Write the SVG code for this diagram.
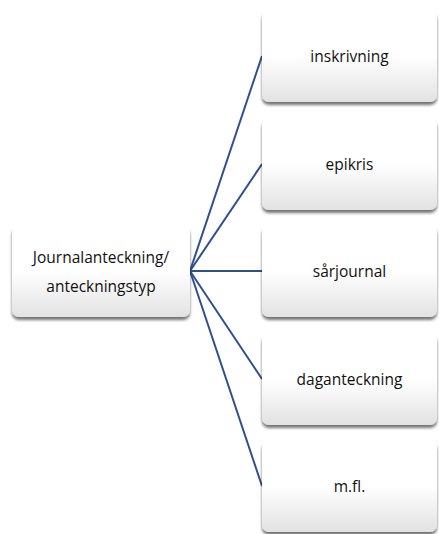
<svg xmlns="http://www.w3.org/2000/svg" width="439" height="534" viewBox="0 0 439 534">
<defs>
<linearGradient id="g" x1="0" y1="0" x2="0" y2="1">
<stop offset="0" stop-color="#ffffff"/>
<stop offset="0.5" stop-color="#ffffff"/>
<stop offset="1" stop-color="#e2e2e2"/>
</linearGradient>
<filter id="sh" x="-10%" y="-10%" width="125%" height="130%">
<feGaussianBlur in="SourceAlpha" stdDeviation="1.8"/>
<feOffset dx="0" dy="2.5" result="b"/>
<feComponentTransfer><feFuncA type="linear" slope="0.55"/></feComponentTransfer>
<feMerge><feMergeNode/><feMergeNode in="SourceGraphic"/></feMerge>
</filter>
</defs>
<style>
.box{fill:url(#g);filter:url(#sh);}
.t{font-family:"Open Sans","Liberation Sans",sans-serif;font-size:15.5px;fill:#111;text-anchor:middle;}
.c{stroke:#2f4f8f;stroke-width:2;fill:none;}
</style>
<rect width="439" height="534" fill="#fff"/>
<g id="connectors">
<line class="c" x1="190" y1="271" x2="262" y2="56"/>
<line class="c" x1="190" y1="271" x2="262" y2="164"/>
<line class="c" x1="190" y1="271" x2="262" y2="271"/>
<line class="c" x1="190" y1="271" x2="262" y2="379"/>
<line class="c" x1="190" y1="271" x2="262" y2="486"/>
</g>
<g id="root">
<rect class="box" x="12" y="225" width="178" height="92" rx="7"/>
<text class="t" x="101" y="263">Journalanteckning/</text>
<text class="t" x="101" y="292">anteckningstyp</text>
</g>
<g id="inskrivning">
<rect class="box" x="262" y="10" width="175" height="92" rx="7"/>
<text class="t" x="349.5" y="62">inskrivning</text>
</g>
<g id="epikris">
<rect class="box" x="262" y="118" width="175" height="92" rx="7"/>
<text class="t" x="349.5" y="170">epikris</text>
</g>
<g id="sarjournal">
<rect class="box" x="262" y="225" width="175" height="92" rx="7"/>
<text class="t" x="349.5" y="277">sårjournal</text>
</g>
<g id="daganteckning">
<rect class="box" x="262" y="333" width="175" height="92" rx="7"/>
<text class="t" x="349.5" y="385">daganteckning</text>
</g>
<g id="mfl">
<rect class="box" x="262" y="440" width="175" height="92" rx="7"/>
<text class="t" x="349.5" y="492">m.fl.</text>
</g>
</svg>
